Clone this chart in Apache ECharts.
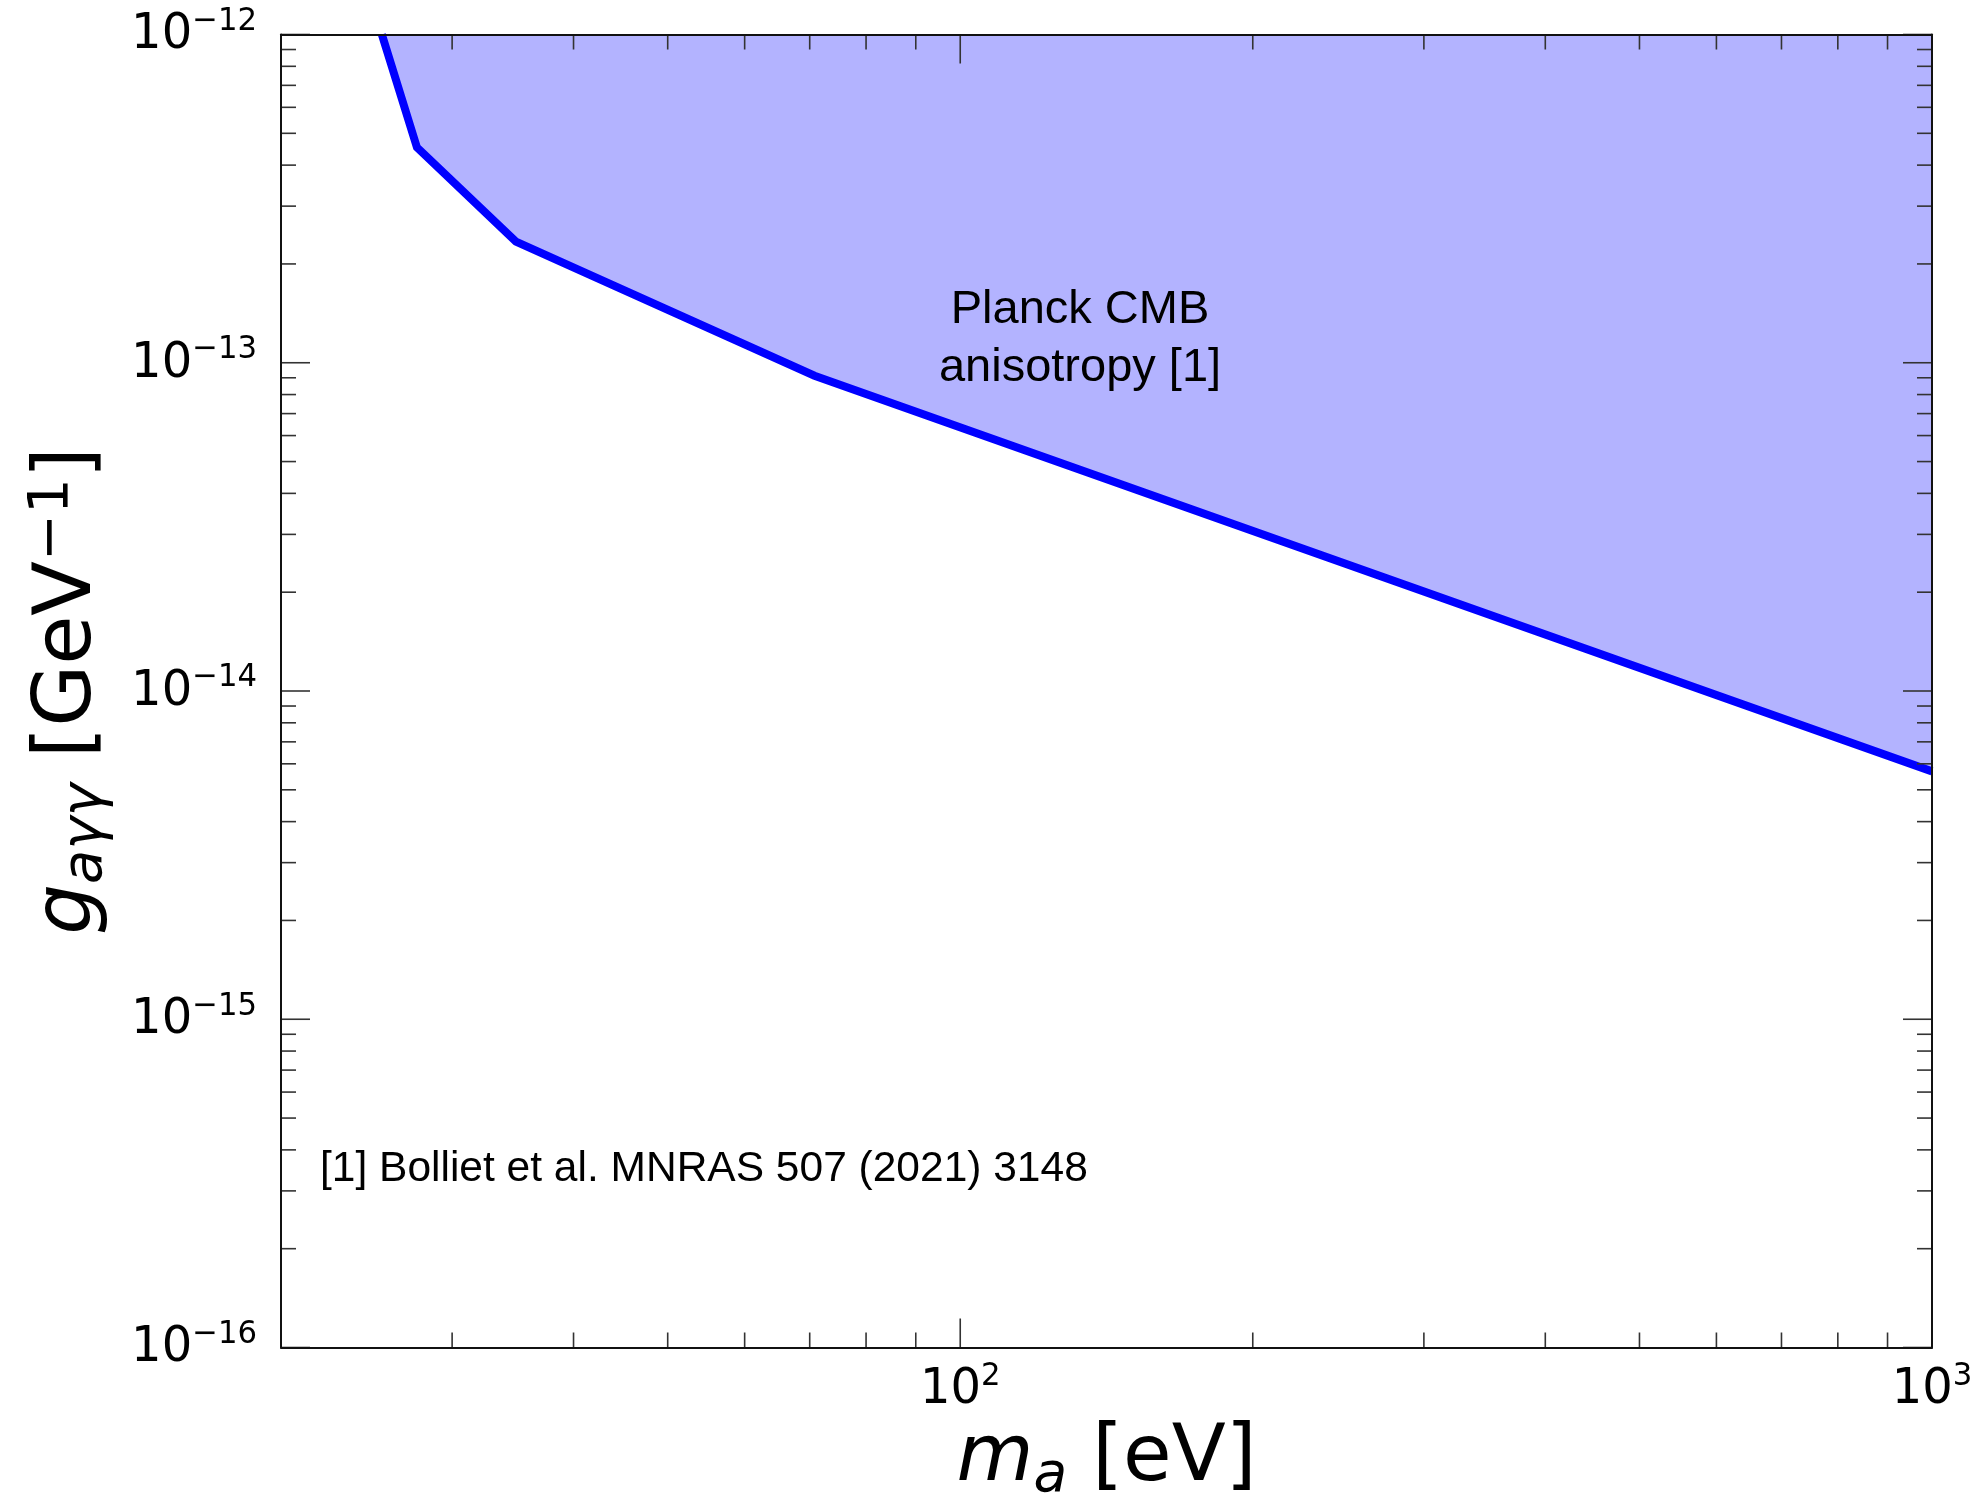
<!DOCTYPE html>
<html><head><meta charset="utf-8">
<script src="https://cdn.jsdelivr.net/npm/echarts@6/dist/echarts.min.js"></script>
<style>html,body{margin:0;padding:0;background:#fff}#c{width:1982px;height:1498px}</style>
</head><body><div id="c"></div>
<script>
// ---- data ----
const massEV      = [25.4, 27.6, 34.9, 70.8, 1000];              // m_a [eV]
const couplingGeV = [1.0e-12, 4.53e-13, 2.34e-13, 9.13e-14, 5.69e-15]; // g_aγγ [GeV^-1]

const xMajorTicks = [100, 1000];
const xMajorExps  = ['2', '3'];
const xMinorTicks = [20, 30, 40, 50, 60, 70, 80, 90, 200, 300, 400, 500, 600, 700, 800, 900];
const yMajorTicks = [1e-16, 1e-15, 1e-14, 1e-13, 1e-12];
const yMajorExps  = ['−16', '−15', '−14', '−13', '−12'];
const yMinorMantissas = [2, 3, 4, 5, 6, 7, 8, 9];
const yMinorDecades   = [1e-16, 1e-15, 1e-14, 1e-13];
const yMinorTicks = yMinorDecades.flatMap(d => yMinorMantissas.map(m => m * d));

const X_MIN = 20, X_MAX = 1000, Y_MIN = 1e-16, Y_MAX = 1e-12;

const regionLabel = 'Planck CMB\nanisotropy [1]';
const refLabel = '[1] Bolliet et al. MNRAS 507 (2021) 3148';

// ---- chart ----
const chart = echarts.init(document.getElementById('c'), null, {renderer: 'canvas'});
const TICK_STYLE = {stroke: '#333', lineWidth: 1.6};
const MAJOR_LEN = 29, MINOR_LEN = 15;
const FONT = 'DejaVu Sans';
const LABEL_SCALE_X = 0.96;

function tickSeries(values, axis, len) {
  return {
    type: 'custom', coordinateSystem: 'cartesian2d', xAxisIndex: 0, yAxisIndex: 0,
    silent: true, z: 6, clip: false, animation: false,
    data: values.map(v => axis === 'x' ? [v, Y_MIN] : [X_MIN, v]),
    renderItem: function (params, api) {
      if (axis === 'x') {
        const v = api.value(0);
        const b = api.coord([v, Y_MIN]), t = api.coord([v, Y_MAX]);
        return {type: 'group', children: [
          {type: 'line', shape: {x1: b[0], y1: b[1], x2: b[0], y2: b[1] - len}, style: TICK_STYLE},
          {type: 'line', shape: {x1: t[0], y1: t[1], x2: t[0], y2: t[1] + len}, style: TICK_STYLE}
        ]};
      } else {
        const v = api.value(1);
        const l = api.coord([X_MIN, v]), r = api.coord([X_MAX, v]);
        return {type: 'group', children: [
          {type: 'line', shape: {x1: l[0], y1: l[1], x2: l[0] + len, y2: l[1]}, style: TICK_STYLE},
          {type: 'line', shape: {x1: r[0], y1: r[1], x2: r[0] - len, y2: r[1]}, style: TICK_STYLE}
        ]};
      }
    }
  };
}

const powRich = {
  b: {fontSize: 50, fontFamily: FONT, lineHeight: 60, fill: '#000'},
  s: {fontSize: 32, fontFamily: FONT, lineHeight: 32, verticalAlign: 'top', fill: '#000'}
};

function labelSeries(values, exps, axis) {
  return {
    type: 'custom', coordinateSystem: 'cartesian2d', xAxisIndex: 0, yAxisIndex: 0,
    silent: true, z: 7, clip: false, animation: false,
    data: values.map(v => axis === 'x' ? [v, Y_MIN] : [X_MIN, v]),
    renderItem: function (params, api) {
      const txt = '{b|10}{s|' + exps[params.dataIndex] + '}';
      if (axis === 'x') {
        const p = api.coord([api.value(0), Y_MIN]);
        return {type: 'text', x: p[0], y: p[1] + 13, scaleX: LABEL_SCALE_X,
          style: {text: txt, rich: powRich, align: 'center', verticalAlign: 'top', fill: '#000'}};
      } else {
        const p = api.coord([X_MIN, api.value(1)]);
        return {type: 'text', x: p[0] - 24, y: p[1] + 1, scaleX: LABEL_SCALE_X,
          style: {text: txt, rich: powRich, align: 'right', verticalAlign: 'middle', fill: '#000'}};
      }
    }
  };
}

const hiddenAxisParts = {
  axisTick: {show: false}, axisLabel: {show: false}, splitLine: {show: false},
  axisLine: {show: true, onZero: false, lineStyle: {color: '#111', width: 2}}
};

const option = {
  backgroundColor: '#fff',
  animation: false,
  grid: {left: 281, right: 50, top: 34.5, bottom: 150.5, outerBoundsMode: 'none', containLabel: false},
  xAxis: [
    Object.assign({
      type: 'log', logBase: 10, min: X_MIN, max: X_MAX, position: 'bottom', z: 10,
      name: '{m|m}{a|a}{n| [eV]}', nameLocation: 'middle', nameGap: 67,
      nameTextStyle: {color: '#000', fontFamily: FONT, rich: {
        m: {fontSize: 79, fontFamily: FONT, fontStyle: 'italic', lineHeight: 90},
        a: {fontSize: 55, fontFamily: FONT, fontStyle: 'italic', lineHeight: 44, verticalAlign: 'bottom'},
        n: {fontSize: 79, fontFamily: FONT, lineHeight: 90}
      }}
    }, hiddenAxisParts),
    Object.assign({type: 'log', logBase: 10, min: X_MIN, max: X_MAX, position: 'top', z: 10}, hiddenAxisParts)
  ],
  yAxis: [
    Object.assign({
      type: 'log', logBase: 10, min: Y_MIN, max: Y_MAX, position: 'left', z: 10,
      name: '{g|g}{s|aγγ}{n| [GeV}{p|−1}{n|]}', nameLocation: 'middle', nameRotate: 90, nameGap: 167,
      nameTextStyle: {color: '#000', fontFamily: FONT, rich: {
        g: {fontSize: 80, fontFamily: FONT, fontStyle: 'italic', lineHeight: 90},
        s: {fontSize: 56, fontFamily: FONT, fontStyle: 'italic', lineHeight: 44, verticalAlign: 'bottom'},
        n: {fontSize: 80, fontFamily: FONT, lineHeight: 90},
        p: {fontSize: 56, fontFamily: FONT, lineHeight: 42, verticalAlign: 'top'}
      }}
    }, hiddenAxisParts),
    Object.assign({type: 'log', logBase: 10, min: Y_MIN, max: Y_MAX, position: 'right', z: 10}, hiddenAxisParts)
  ],
  series: [
    {
      name: 'Planck CMB anisotropy', type: 'line', xAxisIndex: 0, yAxisIndex: 0,
      data: massEV.map((m, i) => [m, couplingGeV[i]]),
      symbol: 'none', showSymbol: false, z: 2, clip: true,
      lineStyle: {color: '#0000ff', width: 8, join: 'miter', cap: 'butt'},
      areaStyle: {color: '#b3b3ff', opacity: 1, origin: 'end'}
    },
    tickSeries(xMajorTicks, 'x', MAJOR_LEN),
    tickSeries(xMinorTicks, 'x', MINOR_LEN),
    tickSeries(yMajorTicks, 'y', MAJOR_LEN),
    tickSeries(yMinorTicks, 'y', MINOR_LEN),
    labelSeries(xMajorTicks, xMajorExps, 'x'),
    labelSeries(yMajorTicks, yMajorExps, 'y')
  ],
  graphic: [
    {type: 'text', x: 1080, y: 281, z: 20, silent: true,
      style: {text: regionLabel, font: '47px "Liberation Sans"', fill: '#000', align: 'center', verticalAlign: 'top', lineHeight: 58}},
    {type: 'text', x: 320, y: 1169, z: 20, silent: true,
      style: {text: refLabel, font: '42.5px "Liberation Sans"', fill: '#000', align: 'left', verticalAlign: 'middle'}}
  ]
};
chart.setOption(option);
</script></body></html>
